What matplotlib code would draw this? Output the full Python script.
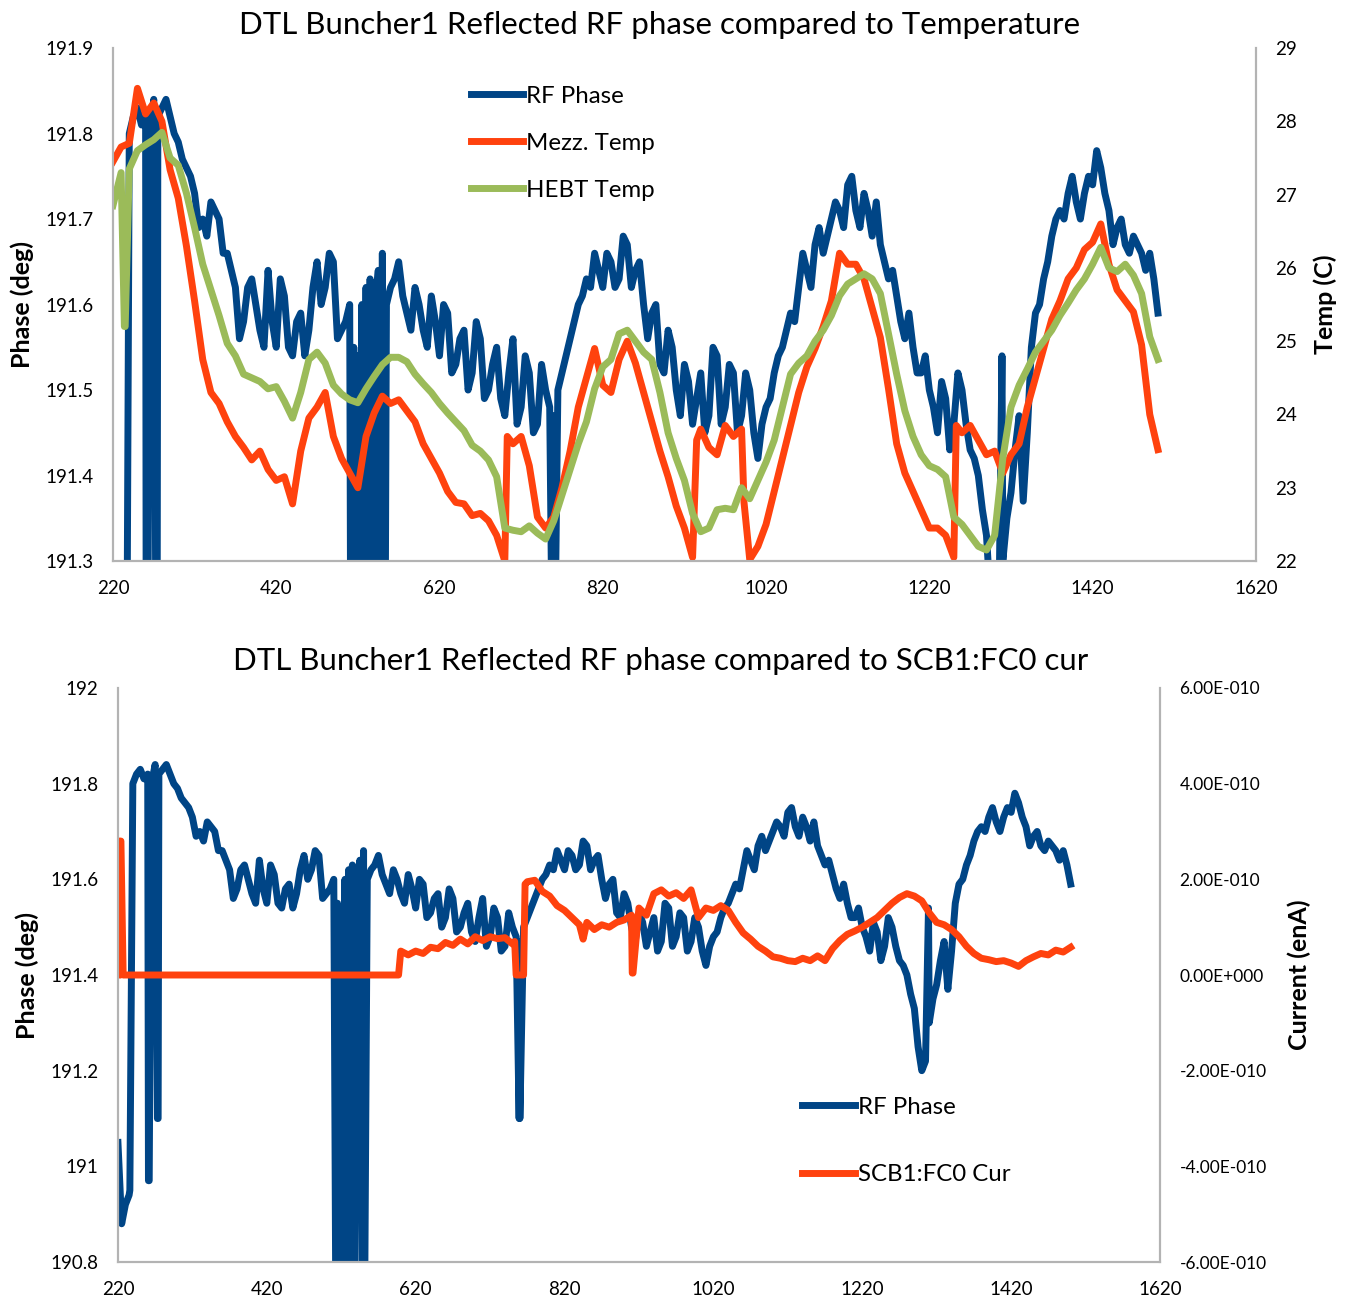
import numpy as np
import matplotlib
matplotlib.use('Agg')
import matplotlib.pyplot as plt
from matplotlib.ticker import FuncFormatter, MultipleLocator

plt.rcParams['font.family'] = ['Lato', 'DejaVu Sans']

# sample positions (shared by every series)
x = np.arange(220, 1501, 10)
x_mid = x[:-1] + 5

# DTL Buncher1 reflected RF phase (deg)
rf_phase = [
    191.05, 190.92, 191.80, 191.83, 191.82, 191.84, 191.83, 191.82, 191.79, 191.76,
    191.73, 191.70, 191.72, 191.70, 191.66, 191.62, 191.58, 191.63, 191.57, 191.64,
    191.55, 191.61, 191.54, 191.59, 191.57, 191.65, 191.62, 191.65, 191.57, 191.60,
    191.54, 191.62, 191.58, 191.66, 191.62, 191.65, 191.59, 191.62, 191.57, 191.61,
    191.54, 191.59, 191.53, 191.57, 191.52, 191.56, 191.50, 191.55, 191.47, 191.56,
    191.48, 191.52, 191.46, 191.50, 191.47, 191.52, 191.56, 191.60, 191.63, 191.66,
    191.62, 191.65, 191.63, 191.67, 191.64, 191.60, 191.59, 191.53, 191.57, 191.50,
    191.53, 191.46, 191.52, 191.47, 191.54, 191.48, 191.52, 191.47, 191.50, 191.42,
    191.48, 191.52, 191.55, 191.59, 191.62, 191.64, 191.67, 191.66, 191.70, 191.71,
    191.74, 191.71, 191.73, 191.68, 191.67, 191.63, 191.61, 191.56, 191.55, 191.52,
    191.50, 191.45, 191.49, 191.46, 191.50, 191.43, 191.40, 191.33, 191.20, 191.30,
    191.38, 191.47, 191.45, 191.59, 191.63, 191.68, 191.71, 191.73, 191.72, 191.73,
    191.74, 191.76, 191.71, 191.69, 191.67, 191.68, 191.66, 191.66, 191.59,
]
# readings half way between the samples above
rf_phase_mid = [
    190.88, 190.94, 191.82, 191.81, 191.80, 191.82, 191.84, 191.80, 191.77, 191.75,
    191.69, 191.68, 191.71, 191.66, 191.64, 191.56, 191.62, 191.60, 191.55, 191.58,
    191.63, 191.55, 191.58, 191.54, 191.62, 191.60, 191.66, 191.56, 191.58, 191.55,
    191.60, 191.63, 191.64, 191.60, 191.63, 191.61, 191.57, 191.60, 191.55, 191.58,
    191.60, 191.52, 191.56, 191.50, 191.58, 191.49, 191.53, 191.49, 191.52, 191.46,
    191.54, 191.45, 191.53, 191.48, 191.50, 191.54, 191.58, 191.61, 191.62, 191.64,
    191.66, 191.62, 191.68, 191.62, 191.65, 191.56, 191.60, 191.52, 191.55, 191.47,
    191.51, 191.49, 191.45, 191.55, 191.46, 191.53, 191.45, 191.52, 191.45, 191.46,
    191.49, 191.54, 191.57, 191.58, 191.66, 191.62, 191.69, 191.68, 191.72, 191.69,
    191.75, 191.69, 191.71, 191.72, 191.65, 191.64, 191.58, 191.59, 191.52, 191.54,
    191.48, 191.51, 191.43, 191.52, 191.46, 191.42, 191.36, 191.25, 191.22, 191.35,
    191.43, 191.37, 191.55, 191.60, 191.65, 191.70, 191.70, 191.75, 191.70, 191.75,
    191.78, 191.73, 191.67, 191.70, 191.66, 191.67, 191.64, 191.63,
]
# short dropouts
rf_extra_x = [236, 261, 262, 273, 274, 513, 514, 517, 518, 522, 523, 527, 528,
              532, 533, 537, 538, 549, 551, 759, 760, 1309]
rf_extra_y = [190.95, 190.97, 190.97, 191.10, 191.10, 190.6, 190.6, 190.6, 190.6,
              190.6, 190.6, 190.6, 190.6, 190.6, 190.6, 190.6, 190.6, 190.6, 190.6,
              191.10, 191.10, 191.54]

# Mezzanine temperature (C)
mezz_temp = [
    27.45, 27.65, 27.70, 28.45, 28.10, 28.25, 28.00, 27.34, 26.95, 26.30,
    25.55, 24.75, 24.30, 24.15, 23.90, 23.70, 23.55, 23.38, 23.50, 23.25,
    23.10, 23.15, 22.78, 23.50, 23.95, 24.10, 24.30, 23.70, 23.40, 23.20,
    23.00, 23.70, 24.02, 24.25, 24.15, 24.20, 24.05, 23.90, 23.60, 23.40,
    23.20, 22.95, 22.80, 22.78, 22.62, 22.65, 22.55, 22.35, 22.00, 23.60,
    23.70, 23.30, 22.60, 22.45, 22.60, 23.00, 23.50, 24.10, 24.50, 24.90,
    24.40, 24.30, 24.75, 25.00, 24.70, 24.30, 23.90, 23.50, 23.15, 22.75,
    22.45, 22.05, 23.80, 23.55, 23.45, 23.85, 23.70, 23.80, 22.02, 22.20,
    22.50, 22.95, 23.40, 23.85, 24.30, 24.65, 24.90, 25.20, 25.55, 26.20,
    26.05, 26.05, 25.85, 25.45, 25.05, 24.35, 23.60, 23.20, 22.95, 22.70,
    22.45, 22.45, 22.35, 22.05, 23.75, 23.85, 23.65, 23.45, 23.50, 23.20,
    23.45, 23.60, 24.10, 24.50, 24.90, 25.30, 25.55, 25.85, 26.00, 26.25,
    26.35, 26.60, 26.05, 25.70, 25.55, 25.40, 24.95, 24.00, 23.52,
]
mezz_extra_x = [703, 935, 993, 1253]
mezz_extra_y = [23.70, 23.65, 22.80, 23.85]

# HEBT temperature (C)
hebt_temp = [
    26.85, 27.30, 27.35, 27.60, 27.68, 27.75, 27.85, 27.50, 27.40, 27.02,
    26.55, 26.05, 25.70, 25.35, 24.97, 24.80, 24.55, 24.50, 24.45, 24.35,
    24.38, 24.18, 23.95, 24.30, 24.75, 24.85, 24.70, 24.40, 24.28, 24.20,
    24.16, 24.35, 24.52, 24.68, 24.78, 24.78, 24.72, 24.55, 24.42, 24.30,
    24.15, 24.02, 23.90, 23.78, 23.58, 23.50, 23.38, 23.15, 22.45, 22.42,
    22.40, 22.48, 22.38, 22.30, 22.55, 22.90, 23.25, 23.60, 23.90, 24.35,
    24.65, 24.75, 25.10, 25.15, 25.00, 24.85, 24.75, 24.30, 23.75, 23.40,
    23.10, 22.65, 22.40, 22.45, 22.70, 22.72, 22.70, 23.00, 22.85, 23.10,
    23.35, 23.65, 24.10, 24.55, 24.70, 24.80, 25.00, 25.15, 25.35, 25.62,
    25.78, 25.85, 25.92, 25.85, 25.65, 25.10, 24.55, 24.05, 23.70, 23.45,
    23.30, 23.25, 23.15, 22.60, 22.50, 22.35, 22.20, 22.15, 22.35, 23.40,
    24.10, 24.40, 24.62, 24.85, 25.00, 25.15, 25.35, 25.52, 25.70, 25.85,
    26.05, 26.28, 26.00, 25.95, 26.05, 25.90, 25.65, 25.06, 24.75,
]
hebt_extra_x = [234, 235]
hebt_extra_y = [25.2, 25.2]

# SCB1:FC0 current (x 1e-10)
fc0_cur = [
    0.0, 0.0, 0.0, 0.0, 0.0, 0.0, 0.0, 0.0, 0.0, 0.0,
    0.0, 0.0, 0.0, 0.0, 0.0, 0.0, 0.0, 0.0, 0.0, 0.0,
    0.0, 0.0, 0.0, 0.0, 0.0, 0.0, 0.0, 0.0, 0.0, 0.0,
    0.0, 0.0, 0.0, 0.0, 0.0, 0.0, 0.0, 0.0, 0.50, 0.42,
    0.50, 0.45, 0.58, 0.55, 0.68, 0.62, 0.75, 0.65, 0.80, 0.72,
    0.80, 0.76, 0.78, 0.65, 0.0, 1.95, 1.98, 1.75, 1.65, 1.45,
    1.35, 1.20, 1.05, 1.10, 0.95, 1.05, 1.00, 1.10, 1.15, 1.25,
    1.40, 1.25, 1.70, 1.78, 1.65, 1.72, 1.60, 1.78, 1.20, 1.40,
    1.35, 1.45, 1.35, 1.10, 0.88, 0.75, 0.60, 0.50, 0.38, 0.35,
    0.30, 0.28, 0.35, 0.30, 0.40, 0.30, 0.55, 0.72, 0.85, 0.92,
    1.00, 1.10, 1.20, 1.35, 1.50, 1.62, 1.70, 1.65, 1.55, 1.30,
    1.10, 1.05, 0.95, 0.80, 0.60, 0.45, 0.35, 0.32, 0.28, 0.30,
    0.25, 0.18, 0.30, 0.38, 0.45, 0.42, 0.52, 0.48, 0.58,
]
cur_extra_x = [222, 224, 227, 597, 753, 755, 765, 767, 845, 911, 912]
cur_extra_y = [2.8, 2.8, 0.0, 0.0, 0.70, 0.0, 0.0, 1.90, 0.75, 0.04, 0.04]


def merged(xs, ys, ex, ey):
    xx = np.concatenate([xs, ex])
    yy = np.concatenate([ys, ey])
    order = np.argsort(xx, kind='stable')
    return xx[order], yy[order]


BLUE = '#004586'
RED = '#ff420e'
GREEN = '#9bbb59'
GREY = '#b3b3b3'
LW = 5


def style(ax):
    ax.spines['top'].set_visible(False)
    for s in ['left', 'bottom', 'right']:
        ax.spines[s].set_color(GREY)
        ax.spines[s].set_linewidth(1.5)
    ax.tick_params(length=0, labelsize=13.5, pad=14)


def sci(v, pos):
    if v == 0:
        return '0.00E+000'
    e = int(np.floor(np.log10(abs(v)) + 1e-9))
    m = v / 10 ** e
    return '%.2fE%s%03d' % (m, '-' if e < 0 else '+', abs(e))


fig = plt.figure(figsize=(13.51, 13.02), dpi=100)

# rf phase with the mid readings and dropouts
rx, ry = merged(x, rf_phase, np.concatenate([x_mid, rf_extra_x]),
                np.concatenate([rf_phase_mid, rf_extra_y]))

# ---- top: phase vs temperature
ax1 = fig.add_axes([0.0836, 0.5691, 0.846, 0.394])
ax1r = ax1.twinx()
mx, my = merged(x, mezz_temp, mezz_extra_x, mezz_extra_y)
hx, hy = merged(x, hebt_temp, hebt_extra_x, hebt_extra_y)
l1, = ax1.plot(rx, ry, color=BLUE, lw=LW, label='RF Phase')
l2, = ax1r.plot(mx, my, color=RED, lw=LW, label='Mezz. Temp')
l3, = ax1r.plot(hx, hy, color=GREEN, lw=LW, label='HEBT Temp')

ax1.set_xlim(220, 1620)
ax1.set_xticks(np.arange(220, 1621, 200))
ax1.set_ylim(191.3, 191.9)
ax1.yaxis.set_major_locator(MultipleLocator(0.1))
ax1.yaxis.set_major_formatter(FuncFormatter(lambda v, p: '%.1f' % v))
ax1r.set_ylim(22, 29)
ax1r.set_yticks(range(22, 30))
style(ax1)
style(ax1r)
ax1.set_ylabel('Phase (deg)', fontsize=18, fontweight='bold')
ax1.yaxis.set_label_coords(-0.069, 0.5)
ax1r.set_ylabel('Temp (C)', fontsize=18, fontweight='bold')
ax1r.yaxis.set_label_coords(1.0499, 0.5)
ax1.set_title('DTL Buncher1 Reflected RF phase compared to Temperature',
              fontsize=22.5, pad=10, x=0.4786)
ax1r.legend([l1, l2, l3], ['RF Phase', 'Mezz. Temp', 'HEBT Temp'],
            loc='upper left', bbox_to_anchor=(0.3045, 0.945), frameon=False,
            fontsize=17.3, handlelength=2.2, handletextpad=0.1,
            labelspacing=1.075, borderaxespad=0)

# ---- bottom: phase vs FC0 current
ax2 = fig.add_axes([0.0873, 0.0307, 0.7713, 0.4409])
ax2r = ax2.twinx()
cx, cy = merged(x, fc0_cur, cur_extra_x, cur_extra_y)
b1, = ax2.plot(rx, ry, color=BLUE, lw=LW, label='RF Phase')
b2, = ax2r.plot(cx, cy * 1e-10, color=RED, lw=LW, label='SCB1:FC0 Cur')

ax2.set_xlim(220, 1620)
ax2.set_xticks(np.arange(220, 1621, 200))
ax2.set_ylim(190.8, 192)
ax2.yaxis.set_major_locator(MultipleLocator(0.2))
ax2.yaxis.set_major_formatter(FuncFormatter(lambda v, p: '%g' % round(v, 1)))
ax2r.set_ylim(-6e-10, 6e-10)
ax2r.set_yticks(np.arange(-6, 7, 2) * 1e-10)
ax2r.yaxis.set_major_formatter(FuncFormatter(sci))
style(ax2)
style(ax2r)
ax2r.tick_params(labelsize=12.5)
ax2.set_ylabel('Phase (deg)', fontsize=18, fontweight='bold')
ax2.yaxis.set_label_coords(-0.0758, 0.5)
ax2r.set_ylabel('Current (enA)', fontsize=18, fontweight='bold')
ax2r.yaxis.set_label_coords(1.1228, 0.5)
ax2.set_title('DTL Buncher1 Reflected RF phase compared to SCB1:FC0 cur',
              fontsize=22.5, pad=13, x=0.521)
ax2r.legend([b1, b2], ['RF Phase', 'SCB1:FC0 Cur'],
            loc='upper left', bbox_to_anchor=(0.6475, 0.305), frameon=False,
            fontsize=17.3, handlelength=2.2, handletextpad=0.1,
            labelspacing=1.93, borderaxespad=0)

fig.savefig('out.png', dpi=100)
